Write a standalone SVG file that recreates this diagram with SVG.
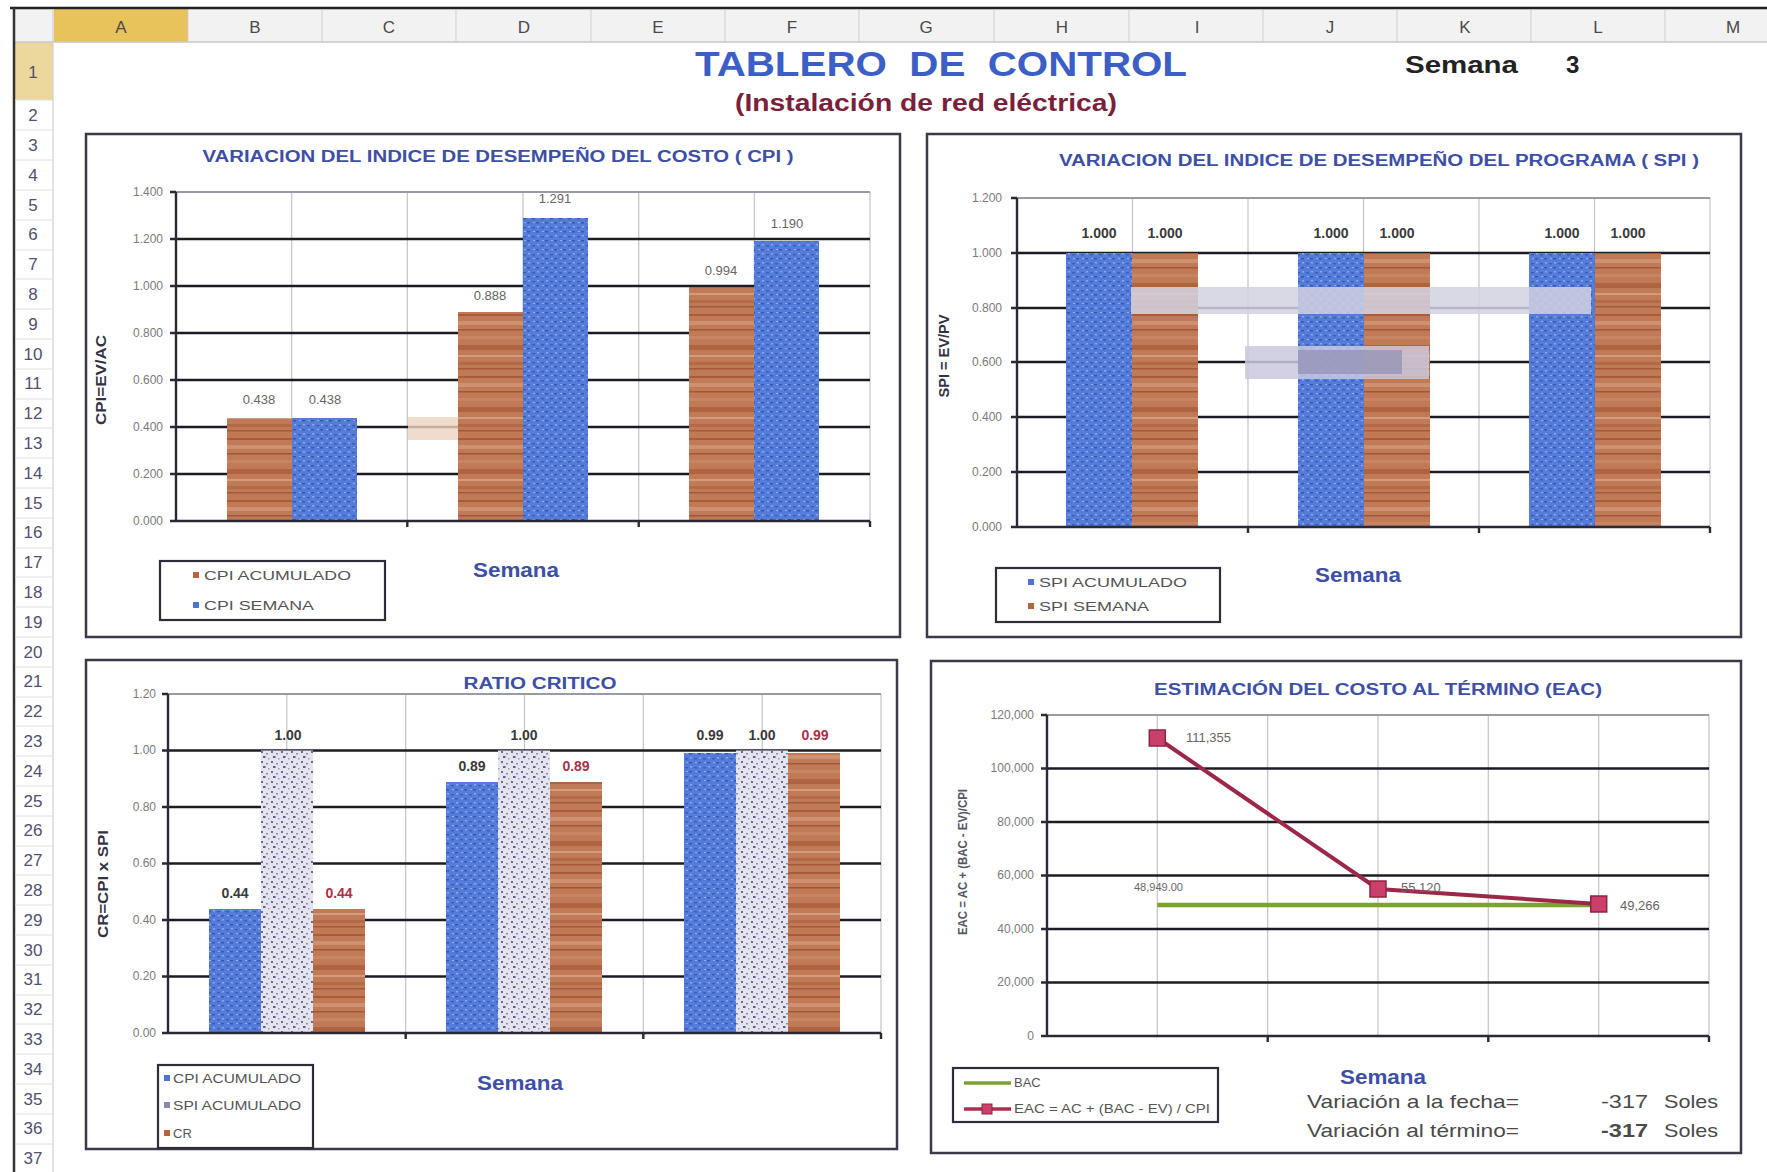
<svg xmlns="http://www.w3.org/2000/svg" width="1767" height="1172" viewBox="0 0 1767 1172">
<defs>
<style>
text{font-family:"Liberation Sans",Arial,sans-serif}
.col{font-size:17px;fill:#4a4a4a;text-anchor:middle}
.row{font-family:"DejaVu Sans Mono","Liberation Mono",monospace;font-size:17px;fill:#505070;text-anchor:middle}
.box{fill:#fff;stroke:#3a3a48;stroke-width:2.5}
.ctitle{font-size:16px;font-weight:bold;fill:#3d4fa6;text-anchor:middle}
.tick{font-size:12px;fill:#7a7a7a;text-anchor:end}
.grid{stroke:#1c1c24;stroke-width:2.6}
.gtop{stroke:#9a9aa4;stroke-width:2}
.vgrid{stroke:#c4c4c8;stroke-width:1.2}
.axis{stroke:#2a2a36;stroke-width:2.4;fill:none}
.ytitle{font-size:14px;font-weight:bold;fill:#333344;text-anchor:middle}
.xtitle{font-size:20px;font-weight:bold;fill:#3d4fa6;text-anchor:middle}
.leg{fill:#fff;stroke:#2e2e3a;stroke-width:2.2}
.legt{font-size:13px;fill:#555}
.dl{font-size:13px;fill:#666;text-anchor:middle}
.dlb{font-size:14px;font-weight:bold;fill:#3a3a3a;text-anchor:middle}
.dlr{font-size:14px;font-weight:bold;fill:#a8304c;text-anchor:middle}
.var{font-size:19px;fill:#4a4a4a}
</style>
<pattern id="wood" patternUnits="userSpaceOnUse" width="20" height="62">
<rect width="20" height="62" fill="#c07a55"/>
<rect y="4" width="20" height="2" fill="#ab5b38"/>
<rect y="11" width="20" height="4" fill="#cd9070"/>
<rect y="19" width="20" height="1.5" fill="#a5553a"/>
<rect y="26" width="20" height="3" fill="#c88464"/>
<rect y="35" width="20" height="5" fill="#b0633f"/>
<rect y="45" width="20" height="2" fill="#d39c7e"/>
<rect y="52" width="20" height="3" fill="#b46a47"/>
<rect y="58" width="20" height="1.5" fill="#a65838"/>
</pattern>
<pattern id="blue" patternUnits="userSpaceOnUse" width="9" height="9">
<rect width="9" height="9" fill="#557cd8"/>
<rect x="1" y="2" width="3" height="1.5" fill="#3a5ebc"/>
<rect x="5" y="6" width="3" height="1.5" fill="#3558b4"/>
<rect x="6" y="1" width="2" height="1.5" fill="#89a6ec"/>
<rect x="2" y="6" width="2" height="1" fill="#90acee"/>
</pattern>
<pattern id="speck" patternUnits="userSpaceOnUse" width="10" height="10">
<rect width="10" height="10" fill="#e4e4ee"/>
<rect x="1" y="1" width="2" height="2" fill="#6c6c96"/>
<rect x="6" y="3" width="2" height="1.5" fill="#8a8ab0"/>
<rect x="3" y="6" width="2.5" height="2" fill="#5e5e8a"/>
<rect x="8" y="8" width="1.5" height="1.5" fill="#9a9abc"/>
</pattern>
</defs>
<rect width="1767" height="1172" fill="#fff"/>

<g id="sheet">
<rect x="13" y="9" width="1754" height="33" fill="#f2f2f2"/>
<rect x="54" y="9" width="134" height="33" fill="#e8c25a"/>
<rect x="13" y="42" width="40" height="58" fill="#ecd79c"/>
<line x1="10" y1="8" x2="1767" y2="8" stroke="#222" stroke-width="2.5"/>
<line x1="13" y1="42" x2="1767" y2="42" stroke="#c8c8c8" stroke-width="1.5"/>
<line x1="14" y1="8" x2="14" y2="1172" stroke="#333" stroke-width="2.5"/>
<line x1="53" y1="9" x2="53" y2="1172" stroke="#d0d0d0" stroke-width="1.2"/>
<g stroke="#cfcfcf" stroke-width="1">
<line x1="188" y1="10" x2="188" y2="42"/><line x1="322" y1="10" x2="322" y2="42"/><line x1="456" y1="10" x2="456" y2="42"/><line x1="591" y1="10" x2="591" y2="42"/><line x1="725" y1="10" x2="725" y2="42"/><line x1="859" y1="10" x2="859" y2="42"/><line x1="994" y1="10" x2="994" y2="42"/><line x1="1129" y1="10" x2="1129" y2="42"/><line x1="1263" y1="10" x2="1263" y2="42"/><line x1="1397" y1="10" x2="1397" y2="42"/><line x1="1531" y1="10" x2="1531" y2="42"/><line x1="1665" y1="10" x2="1665" y2="42"/>
</g>
<g class="col">
<text x="121" y="33">A</text><text x="255" y="33">B</text><text x="389" y="33">C</text><text x="524" y="33">D</text><text x="658" y="33">E</text><text x="792" y="33">F</text><text x="926" y="33">G</text><text x="1062" y="33">H</text><text x="1197" y="33">I</text><text x="1330" y="33">J</text><text x="1465" y="33">K</text><text x="1598" y="33">L</text><text x="1733" y="33">M</text>
</g>
<g stroke="#e0e0e0" stroke-width="1">
<line x1="15" y1="100" x2="53" y2="100"/><line x1="15" y1="130" x2="53" y2="130"/><line x1="15" y1="160" x2="53" y2="160"/><line x1="15" y1="190" x2="53" y2="190"/><line x1="15" y1="220" x2="53" y2="220"/><line x1="15" y1="250" x2="53" y2="250"/><line x1="15" y1="279" x2="53" y2="279"/><line x1="15" y1="309" x2="53" y2="309"/><line x1="15" y1="339" x2="53" y2="339"/><line x1="15" y1="369" x2="53" y2="369"/><line x1="15" y1="399" x2="53" y2="399"/><line x1="15" y1="428" x2="53" y2="428"/><line x1="15" y1="458" x2="53" y2="458"/><line x1="15" y1="488" x2="53" y2="488"/><line x1="15" y1="518" x2="53" y2="518"/><line x1="15" y1="548" x2="53" y2="548"/><line x1="15" y1="577" x2="53" y2="577"/><line x1="15" y1="607" x2="53" y2="607"/><line x1="15" y1="637" x2="53" y2="637"/><line x1="15" y1="667" x2="53" y2="667"/><line x1="15" y1="697" x2="53" y2="697"/><line x1="15" y1="726" x2="53" y2="726"/><line x1="15" y1="756" x2="53" y2="756"/><line x1="15" y1="786" x2="53" y2="786"/><line x1="15" y1="816" x2="53" y2="816"/><line x1="15" y1="846" x2="53" y2="846"/><line x1="15" y1="875" x2="53" y2="875"/><line x1="15" y1="905" x2="53" y2="905"/><line x1="15" y1="935" x2="53" y2="935"/><line x1="15" y1="965" x2="53" y2="965"/><line x1="15" y1="995" x2="53" y2="995"/><line x1="15" y1="1024" x2="53" y2="1024"/><line x1="15" y1="1054" x2="53" y2="1054"/><line x1="15" y1="1084" x2="53" y2="1084"/><line x1="15" y1="1114" x2="53" y2="1114"/><line x1="15" y1="1144" x2="53" y2="1144"/>
</g>
<g class="row">
<text x="33" y="78">1</text><text x="33" y="121">2</text><text x="33" y="151">3</text><text x="33" y="181">4</text><text x="33" y="211">5</text><text x="33" y="240">6</text><text x="33" y="270">7</text><text x="33" y="300">8</text><text x="33" y="330">9</text><text x="33" y="360">10</text><text x="33" y="389">11</text><text x="33" y="419">12</text><text x="33" y="449">13</text><text x="33" y="479">14</text><text x="33" y="509">15</text><text x="33" y="538">16</text><text x="33" y="568">17</text><text x="33" y="598">18</text><text x="33" y="628">19</text><text x="33" y="658">20</text><text x="33" y="687">21</text><text x="33" y="717">22</text><text x="33" y="747">23</text><text x="33" y="777">24</text><text x="33" y="807">25</text><text x="33" y="836">26</text><text x="33" y="866">27</text><text x="33" y="896">28</text><text x="33" y="926">29</text><text x="33" y="956">30</text><text x="33" y="985">31</text><text x="33" y="1015">32</text><text x="33" y="1045">33</text><text x="33" y="1075">34</text><text x="33" y="1105">35</text><text x="33" y="1134">36</text><text x="33" y="1164">37</text>
</g>
</g>

<g id="header">
<text x="941" y="76" text-anchor="middle" font-size="35" font-weight="bold" fill="#3b5fc6" style="white-space:pre" textLength="492" lengthAdjust="spacingAndGlyphs">TABLERO  DE  CONTROL</text>
<text x="926" y="111" text-anchor="middle" font-size="23" font-weight="bold" fill="#7a1f3c" textLength="382" lengthAdjust="spacingAndGlyphs">(Instalación de red eléctrica)</text>
<text x="1405" y="73" font-size="24" font-weight="bold" fill="#222" textLength="113" lengthAdjust="spacingAndGlyphs">Semana</text>
<text x="1566" y="73" font-size="24" font-weight="bold" fill="#222">3</text>
</g>

<g id="chart-cpi">
<rect class="box" x="86" y="134" width="814" height="503"/>
<text class="ctitle" x="498" y="162" textLength="591" lengthAdjust="spacingAndGlyphs">VARIACION DEL INDICE DE DESEMPEÑO DEL COSTO ( CPI )</text>
<g class="vgrid">
<line x1="291.7" y1="192" x2="291.7" y2="521"/><line x1="407.3" y1="192" x2="407.3" y2="521"/><line x1="523" y1="192" x2="523" y2="521"/><line x1="638.7" y1="192" x2="638.7" y2="521"/><line x1="754.3" y1="192" x2="754.3" y2="521"/><line x1="870" y1="192" x2="870" y2="521"/>
</g>
<line class="gtop" x1="176" y1="192" x2="870" y2="192"/>
<g class="grid">
<line x1="176" y1="239" x2="870" y2="239"/><line x1="176" y1="286" x2="870" y2="286"/><line x1="176" y1="333" x2="870" y2="333"/><line x1="176" y1="380" x2="870" y2="380"/><line x1="176" y1="427" x2="870" y2="427"/><line x1="176" y1="474" x2="870" y2="474"/>
</g>
<rect x="408" y="417" width="109" height="23" fill="#ecd2bf" opacity="0.8"/>
<rect x="227" y="418" width="65" height="103" fill="url(#wood)"/>
<rect x="292" y="418" width="65" height="103" fill="url(#blue)"/>
<rect x="458" y="312" width="65" height="209" fill="url(#wood)"/>
<rect x="523" y="218" width="65" height="303" fill="url(#blue)"/>
<rect x="689" y="287" width="65" height="234" fill="url(#wood)"/>
<rect x="754" y="241" width="65" height="280" fill="url(#blue)"/>
<path class="axis" d="M176 192 V521 H870 M170 192 H176 M170 239 H176 M170 286 H176 M170 333 H176 M170 380 H176 M170 427 H176 M170 474 H176 M170 521 H176 M407.3 521 V527 M638.7 521 V527 M870 521 V527"/>
<g class="tick">
<text x="163" y="196">1.400</text><text x="163" y="243">1.200</text><text x="163" y="290">1.000</text><text x="163" y="337">0.800</text><text x="163" y="384">0.600</text><text x="163" y="431">0.400</text><text x="163" y="478">0.200</text><text x="163" y="525">0.000</text>
</g>
<g class="dl">
<text x="259" y="404">0.438</text><text x="325" y="404">0.438</text><text x="490" y="300">0.888</text><text x="555" y="203">1.291</text><text x="721" y="275">0.994</text><text x="787" y="228">1.190</text>
</g>
<text class="ytitle" transform="translate(106 380) rotate(-90)" textLength="90" lengthAdjust="spacingAndGlyphs">CPI=EV/AC</text>
<text class="xtitle" x="516" y="577" textLength="86" lengthAdjust="spacingAndGlyphs">Semana</text>
<rect class="leg" x="160" y="561" width="225" height="59"/>
<rect x="193" y="572" width="6" height="6" fill="#b8653e"/>
<text class="legt" x="204" y="580" textLength="147" lengthAdjust="spacingAndGlyphs">CPI ACUMULADO</text>
<rect x="193" y="602" width="6" height="6" fill="#4c74d4"/>
<text class="legt" x="204" y="610" textLength="110" lengthAdjust="spacingAndGlyphs">CPI SEMANA</text>
</g>

<g id="chart-spi">
<rect class="box" x="927" y="134" width="814" height="503"/>
<text class="ctitle" x="1379" y="166" textLength="640" lengthAdjust="spacingAndGlyphs">VARIACION DEL INDICE DE DESEMPEÑO DEL PROGRAMA ( SPI )</text>
<g class="vgrid">
<line x1="1132.5" y1="198" x2="1132.5" y2="527"/><line x1="1248" y1="198" x2="1248" y2="527"/><line x1="1363.5" y1="198" x2="1363.5" y2="527"/><line x1="1479" y1="198" x2="1479" y2="527"/><line x1="1594.5" y1="198" x2="1594.5" y2="527"/><line x1="1710" y1="198" x2="1710" y2="527"/>
</g>
<line class="gtop" x1="1017" y1="198" x2="1710" y2="198"/>
<g class="grid">
<line x1="1017" y1="253" x2="1710" y2="253"/><line x1="1017" y1="308" x2="1710" y2="308"/><line x1="1017" y1="362" x2="1710" y2="362"/><line x1="1017" y1="417" x2="1710" y2="417"/><line x1="1017" y1="472" x2="1710" y2="472"/>
</g>
<rect x="1066" y="253" width="66" height="274" fill="url(#blue)"/>
<rect x="1132" y="253" width="66" height="274" fill="url(#wood)"/>
<rect x="1298" y="253" width="66" height="274" fill="url(#blue)"/>
<rect x="1364" y="253" width="66" height="274" fill="url(#wood)"/>
<rect x="1529" y="253" width="66" height="274" fill="url(#blue)"/>
<rect x="1595" y="253" width="66" height="274" fill="url(#wood)"/>
<rect x="1131" y="287" width="460" height="27" fill="#d2d2e2" opacity="0.85"/>
<rect x="1245" y="346" width="184" height="33" fill="#c9c9de" opacity="0.85"/>
<rect x="1298" y="350" width="104" height="24" fill="#8f8fb4" opacity="0.7"/>
<path class="axis" d="M1017 198 V527 H1710 M1011 198 H1017 M1011 253 H1017 M1011 308 H1017 M1011 362 H1017 M1011 417 H1017 M1011 472 H1017 M1011 527 H1017 M1248 527 V533 M1479 527 V533 M1710 527 V533"/>
<g class="tick">
<text x="1002" y="202">1.200</text><text x="1002" y="257">1.000</text><text x="1002" y="312">0.800</text><text x="1002" y="366">0.600</text><text x="1002" y="421">0.400</text><text x="1002" y="476">0.200</text><text x="1002" y="531">0.000</text>
</g>
<g class="dlb">
<text x="1099" y="238">1.000</text><text x="1165" y="238">1.000</text><text x="1331" y="238">1.000</text><text x="1397" y="238">1.000</text><text x="1562" y="238">1.000</text><text x="1628" y="238">1.000</text>
</g>
<text class="ytitle" transform="translate(949 356) rotate(-90)" textLength="83" lengthAdjust="spacingAndGlyphs">SPI = EV/PV</text>
<text class="xtitle" x="1358" y="582" textLength="86" lengthAdjust="spacingAndGlyphs">Semana</text>
<rect class="leg" x="996" y="568" width="224" height="54"/>
<rect x="1028" y="579" width="6" height="6" fill="#4c74d4"/>
<text class="legt" x="1039" y="587" textLength="148" lengthAdjust="spacingAndGlyphs">SPI ACUMULADO</text>
<rect x="1028" y="603" width="6" height="6" fill="#b8653e"/>
<text class="legt" x="1039" y="611" textLength="110" lengthAdjust="spacingAndGlyphs">SPI SEMANA</text>
</g>

<g id="chart-cr">
<rect class="box" x="86" y="660" width="811" height="489"/>
<text class="ctitle" x="540" y="689" textLength="153" lengthAdjust="spacingAndGlyphs">RATIO CRITICO</text>
<g class="vgrid">
<line x1="286.8" y1="694" x2="286.8" y2="1033"/><line x1="405.7" y1="694" x2="405.7" y2="1033"/><line x1="524.5" y1="694" x2="524.5" y2="1033"/><line x1="643.3" y1="694" x2="643.3" y2="1033"/><line x1="762.2" y1="694" x2="762.2" y2="1033"/><line x1="881" y1="694" x2="881" y2="1033"/>
</g>
<line class="gtop" x1="168" y1="694" x2="881" y2="694"/>
<g class="grid">
<line x1="168" y1="750.5" x2="881" y2="750.5"/><line x1="168" y1="807" x2="881" y2="807"/><line x1="168" y1="863.5" x2="881" y2="863.5"/><line x1="168" y1="920" x2="881" y2="920"/><line x1="168" y1="976.5" x2="881" y2="976.5"/>
</g>
<rect x="209" y="909" width="52" height="124" fill="url(#blue)"/>
<rect x="261" y="750.5" width="52" height="282.5" fill="url(#speck)"/>
<rect x="313" y="909" width="52" height="124" fill="url(#wood)"/>
<rect x="446" y="782" width="52" height="251" fill="url(#blue)"/>
<rect x="498" y="750.5" width="52" height="282.5" fill="url(#speck)"/>
<rect x="550" y="782" width="52" height="251" fill="url(#wood)"/>
<rect x="684" y="753" width="52" height="280" fill="url(#blue)"/>
<rect x="736" y="750.5" width="52" height="282.5" fill="url(#speck)"/>
<rect x="788" y="753" width="52" height="280" fill="url(#wood)"/>
<path class="axis" d="M168 694 V1033 H881 M162 694 H168 M162 750.5 H168 M162 807 H168 M162 863.5 H168 M162 920 H168 M162 976.5 H168 M162 1033 H168 M405.7 1033 V1039 M643.3 1033 V1039 M881 1033 V1039"/>
<g class="tick">
<text x="156" y="698">1.20</text><text x="156" y="754">1.00</text><text x="156" y="811">0.80</text><text x="156" y="867">0.60</text><text x="156" y="924">0.40</text><text x="156" y="980">0.20</text><text x="156" y="1037">0.00</text>
</g>
<g class="dlb">
<text x="235" y="898">0.44</text><text x="288" y="740">1.00</text><text x="472" y="771">0.89</text><text x="524" y="740">1.00</text><text x="710" y="740">0.99</text><text x="762" y="740">1.00</text>
</g>
<g class="dlr">
<text x="339" y="898">0.44</text><text x="576" y="771">0.89</text><text x="815" y="740">0.99</text>
</g>
<text class="ytitle" transform="translate(108 884) rotate(-90)" textLength="108" lengthAdjust="spacingAndGlyphs">CR=CPI x SPI</text>
<text class="xtitle" x="520" y="1090" textLength="86" lengthAdjust="spacingAndGlyphs">Semana</text>
<rect class="leg" x="158" y="1065" width="155" height="83"/>
<rect x="164" y="1075" width="6" height="6" fill="#4c74d4"/>
<text class="legt" x="173" y="1083" font-size="11" textLength="128" lengthAdjust="spacingAndGlyphs">CPI ACUMULADO</text>
<rect x="164" y="1102" width="6" height="6" fill="#8a8aae"/>
<text class="legt" x="173" y="1110" font-size="11" textLength="128" lengthAdjust="spacingAndGlyphs">SPI ACUMULADO</text>
<rect x="164" y="1130" width="6" height="6" fill="#b8653e"/>
<text class="legt" x="173" y="1138" font-size="11">CR</text>
</g>

<g id="chart-eac">
<rect class="box" x="931" y="661" width="810" height="492"/>
<text class="ctitle" x="1378" y="695" textLength="448" lengthAdjust="spacingAndGlyphs">ESTIMACIÓN DEL COSTO AL TÉRMINO (EAC)</text>
<g class="vgrid">
<line x1="1157.3" y1="715" x2="1157.3" y2="1036"/><line x1="1267.7" y1="715" x2="1267.7" y2="1036"/><line x1="1378" y1="715" x2="1378" y2="1036"/><line x1="1488.3" y1="715" x2="1488.3" y2="1036"/><line x1="1598.7" y1="715" x2="1598.7" y2="1036"/><line x1="1709" y1="715" x2="1709" y2="1036"/>
</g>
<line class="gtop" x1="1047" y1="715" x2="1709" y2="715"/>
<g class="grid">
<line x1="1047" y1="768.5" x2="1709" y2="768.5"/><line x1="1047" y1="822" x2="1709" y2="822"/><line x1="1047" y1="875.5" x2="1709" y2="875.5"/><line x1="1047" y1="929" x2="1709" y2="929"/><line x1="1047" y1="982.5" x2="1709" y2="982.5"/>
</g>
<path class="axis" d="M1047 715 V1036 H1709 M1041 715 H1047 M1041 768.5 H1047 M1041 822 H1047 M1041 875.5 H1047 M1041 929 H1047 M1041 982.5 H1047 M1041 1036 H1047 M1267.7 1036 V1042 M1488.3 1036 V1042 M1709 1036 V1042"/>
<g class="tick">
<text x="1034" y="719">120,000</text><text x="1034" y="772">100,000</text><text x="1034" y="826">80,000</text><text x="1034" y="879">60,000</text><text x="1034" y="933">40,000</text><text x="1034" y="986">20,000</text><text x="1034" y="1040">0</text>
</g>
<line x1="1157.3" y1="905" x2="1598.7" y2="905" stroke="#7ba32e" stroke-width="4.5"/>
<polyline points="1157.3,738 1378,889 1598.7,904" fill="none" stroke="#9c2748" stroke-width="4"/>
<g fill="#c9406a" stroke="#8e2444" stroke-width="1.5">
<rect x="1149.3" y="730" width="16" height="16"/>
<rect x="1370" y="881" width="16" height="16"/>
<rect x="1590.7" y="896" width="16" height="16"/>
</g>
<g font-size="13" fill="#666">
<text x="1186" y="742">111,355</text>
<text x="1401" y="892">55,120</text>
<text x="1620" y="910">49,266</text>
<text x="1134" y="891" font-size="11">48,949.00</text>
</g>
<text transform="translate(967 862) rotate(-90)" font-size="12" font-weight="bold" fill="#555566" text-anchor="middle" textLength="146" lengthAdjust="spacingAndGlyphs">EAC = AC + (BAC - EV)/CPI</text>
<text class="xtitle" x="1383" y="1084" textLength="86" lengthAdjust="spacingAndGlyphs">Semana</text>
<rect class="leg" x="953" y="1068" width="265" height="54"/>
<line x1="964" y1="1083" x2="1011" y2="1083" stroke="#7ba32e" stroke-width="3.5"/>
<text class="legt" x="1014" y="1087" font-size="11">BAC</text>
<line x1="964" y1="1109" x2="1011" y2="1109" stroke="#a8304c" stroke-width="3.5"/>
<rect x="982" y="1104" width="10" height="10" fill="#c9406a" stroke="#8e2444"/>
<text class="legt" x="1014" y="1113" font-size="11" textLength="196" lengthAdjust="spacingAndGlyphs">EAC = AC + (BAC - EV) / CPI</text>
<text class="var" x="1307" y="1108" textLength="212" lengthAdjust="spacingAndGlyphs">Variación a la fecha=</text>
<text class="var" x="1601" y="1108" textLength="47" lengthAdjust="spacingAndGlyphs">-317</text>
<text class="var" x="1664" y="1108" textLength="54" lengthAdjust="spacingAndGlyphs">Soles</text>
<text class="var" x="1307" y="1137" textLength="212" lengthAdjust="spacingAndGlyphs">Variación al término=</text>
<text class="var" x="1601" y="1137" font-weight="bold" textLength="47" lengthAdjust="spacingAndGlyphs">-317</text>
<text class="var" x="1664" y="1137" textLength="54" lengthAdjust="spacingAndGlyphs">Soles</text>
</g>
</svg>
